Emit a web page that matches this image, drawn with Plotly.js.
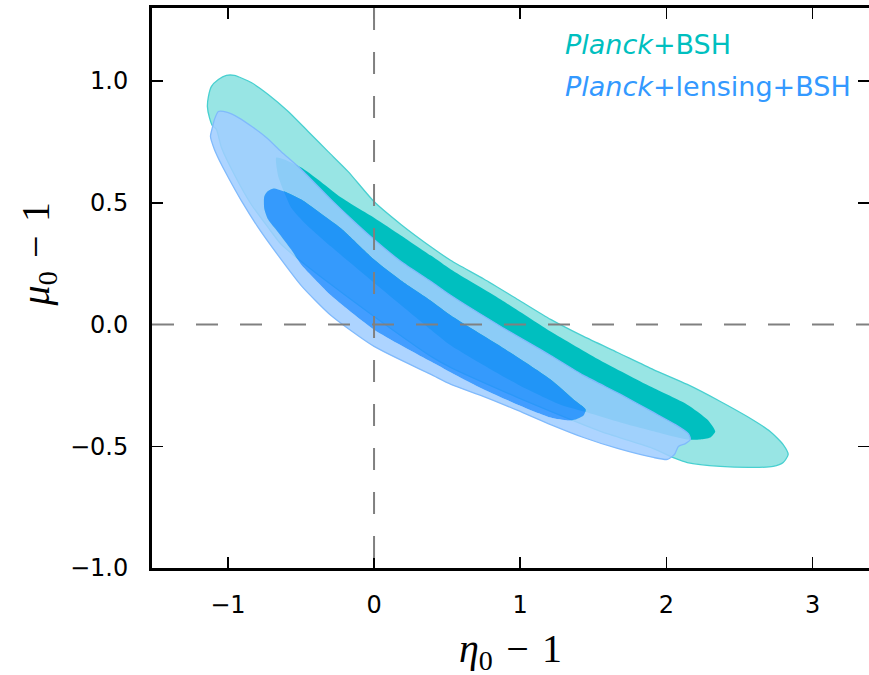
<!DOCTYPE html>
<html>
<head>
<meta charset="utf-8">
<script src="https://cdn.plot.ly/plotly-3.0.1.min.js"></script>
<style>html,body{margin:0;padding:0;background:#fff;}#chart{width:869px;height:675px;}</style>
</head>
<body>
<div id="chart"></div>
<script>
// Contour boundaries (eta0-1, mu0-1)
// Planck+BSH, 95% region outline
var t95x = [-1.133,-1.113,-1.065,-1.010,-0.956,-0.840,-0.724,-0.587,-0.451,-0.314,-0.177,0.000,0.184,0.410,0.526,0.751,0.983,1.208,1.433,1.666,1.911,2.143,2.369,2.553,2.710,2.799,2.833,2.799,2.730,2.594,2.369,2.143,2.061,1.891,1.549,1.208,0.983,0.526,0.389,0.000,-0.294,-0.498,-0.635,-0.724,-0.840,-0.956,-1.044,-1.078,-1.106,-1.126,-1.140,-1.133];
var t95y = [0.936,0.977,1.006,1.023,1.023,0.994,0.945,0.875,0.793,0.710,0.628,0.505,0.411,0.310,0.263,0.187,0.103,0.021,-0.049,-0.115,-0.185,-0.246,-0.316,-0.378,-0.439,-0.493,-0.534,-0.567,-0.583,-0.587,-0.583,-0.567,-0.550,-0.505,-0.439,-0.357,-0.300,-0.177,-0.131,0.033,0.164,0.259,0.329,0.398,0.493,0.616,0.727,0.801,0.817,0.850,0.895,0.936];
// Planck+BSH, 68% region outline
var t68x = [-0.669,-0.614,-0.498,-0.382,-0.225,0.000,0.184,0.389,0.526,0.867,1.208,1.549,1.891,2.143,2.280,2.334,2.300,2.232,2.143,1.891,1.686,1.461,1.276,0.983,0.526,0.389,0.000,-0.294,-0.464,-0.567,-0.614,-0.655,-0.669,-0.669];
var t68y = [0.686,0.678,0.645,0.595,0.522,0.439,0.366,0.283,0.226,0.103,-0.029,-0.148,-0.255,-0.329,-0.390,-0.439,-0.464,-0.472,-0.472,-0.435,-0.402,-0.361,-0.329,-0.246,-0.086,-0.021,0.172,0.320,0.411,0.480,0.542,0.608,0.657,0.686];
// Planck+lensing+BSH, 95% region outline
var b95x = [-1.065,-1.003,-0.928,-0.826,-0.737,-0.635,-0.498,-0.294,-0.137,0.000,0.184,0.389,0.526,0.867,1.208,1.433,1.686,1.911,2.061,2.150,2.164,2.130,2.082,2.055,2.007,1.911,1.666,1.433,1.208,0.983,0.751,0.526,0.389,0.000,-0.294,-0.498,-0.655,-0.792,-0.908,-0.997,-1.044,-1.092,-1.119,-1.106,-1.092,-1.065];
var b95y = [0.875,0.871,0.850,0.809,0.768,0.710,0.637,0.513,0.423,0.349,0.259,0.177,0.119,-0.008,-0.127,-0.209,-0.287,-0.361,-0.411,-0.448,-0.472,-0.489,-0.501,-0.534,-0.554,-0.546,-0.509,-0.464,-0.411,-0.353,-0.296,-0.246,-0.205,-0.090,0.037,0.160,0.283,0.398,0.509,0.604,0.657,0.719,0.772,0.809,0.842,0.875];
// Planck+lensing+BSH, 68% region outline
var b68x = [-0.751,-0.730,-0.689,-0.614,-0.498,-0.382,-0.225,0.000,0.184,0.389,0.526,0.867,1.208,1.365,1.447,1.433,1.379,1.324,1.208,0.983,0.751,0.526,0.389,0.000,-0.294,-0.382,-0.498,-0.567,-0.655,-0.724,-0.751,-0.751];
var b68y = [0.526,0.546,0.559,0.546,0.513,0.464,0.394,0.267,0.181,0.098,0.037,-0.090,-0.226,-0.308,-0.349,-0.374,-0.390,-0.394,-0.382,-0.329,-0.267,-0.197,-0.152,-0.021,0.119,0.172,0.246,0.308,0.378,0.431,0.476,0.526];

var xTicks = [-1, 0, 1, 2, 3];
var yTicks = [-1.0, -0.5, 0.0, 0.5, 1.0];
var legendLabels = ['<i>Planck</i>+BSH', '<i>Planck</i>+lensing+BSH'];

var teal95 = 'rgb(152,229,228)', teal68 = 'rgb(0,191,191)', tealEdge = 'rgb(72,208,208)';
var blue95 = 'rgba(161,206,255,0.87)', blue68 = 'rgba(38,143,255,0.87)', blueEdge = 'rgb(128,186,252)';

// ring for the blue 95% band: outer outline plus reversed inner outline (hole)
var ringX = b95x.concat([null], b68x.slice().reverse());
var ringY = b95y.concat([null], b68y.slice().reverse());

var sp = {shape: 'spline', smoothing: 0.6};
function ln(o){ return Object.assign({}, sp, o); }

var traces = [
  {x: t95x, y: t95y, type: 'scatter', mode: 'lines', fill: 'toself', fillcolor: teal95,
   line: ln({width: 0}), hoverinfo: 'skip', showlegend: false},
  {x: t68x, y: t68y, type: 'scatter', mode: 'lines', fill: 'toself', fillcolor: teal68,
   line: ln({width: 0}), hoverinfo: 'skip', showlegend: false},
  {x: t95x, y: t95y, type: 'scatter', mode: 'lines',
   line: ln({width: 1.3, color: tealEdge}), hoverinfo: 'skip', showlegend: false},
  {x: ringX, y: ringY, type: 'scatter', mode: 'lines', fill: 'toself', fillcolor: blue95,
   line: ln({width: 0}), hoverinfo: 'skip', showlegend: false},
  {x: b68x, y: b68y, type: 'scatter', mode: 'lines', fill: 'toself', fillcolor: blue68,
   line: ln({width: 0}), hoverinfo: 'skip', showlegend: false},
  {x: b95x, y: b95y, type: 'scatter', mode: 'lines',
   line: ln({width: 1.3, color: blueEdge}), hoverinfo: 'skip', showlegend: false}
];

var xr = [-1.519, 3.386], yr = [-1.0, 1.3];
var tickFont = {family: 'DejaVu Sans', size: 24, color: '#000'};
var axisCommon = {
  ticks: 'inside', ticklen: 11, tickwidth: 1.5, tickcolor: '#000',
  showline: true, linewidth: 3, linecolor: '#000', mirror: 'ticks',
  showgrid: false, zeroline: false, tickfont: tickFont, fixedrange: true
};
var sp3 = '\u2004';

var layout = {
  width: 869, height: 675,
  margin: {l: 152, r: 0, t: 8, b: 107},
  paper_bgcolor: '#fff', plot_bgcolor: '#fff',
  showlegend: false,
  xaxis: Object.assign({}, axisCommon, {range: xr, tickvals: xTicks, ticktext: xTicks.map(function(v){return v < 0 ? '\u2212' + Math.abs(v) : String(v);}), ticklabelstandoff: 13}),
  yaxis: Object.assign({}, axisCommon, {range: yr, tickvals: yTicks, ticktext: yTicks.map(function(v){return (v < 0 ? '\u2212' : '') + Math.abs(v).toFixed(1);}), ticklabelstandoff: 16}),
  shapes: [
    {type: 'line', xref: 'x', yref: 'y', x0: 0, x1: 0, y0: yr[1], y1: yr[0], layer: 'above',
     line: {color: 'rgb(128,128,128)', width: 2, dash: '22px,22px'}},
    {type: 'line', xref: 'x', yref: 'y', x0: xr[0], x1: xr[1], y0: 0, y1: 0, layer: 'above',
     line: {color: 'rgb(128,128,128)', width: 2, dash: '22px,22px'}}
  ],
  annotations: [
    {text: legendLabels[0], xref: 'paper', yref: 'paper', x: 0.573, y: 0.934, xanchor: 'left', yanchor: 'middle',
     showarrow: false, font: {family: 'DejaVu Sans', size: 27, color: 'rgb(0,191,191)'}},
    {text: legendLabels[1], xref: 'paper', yref: 'paper', x: 0.573, y: 0.860, xanchor: 'left', yanchor: 'middle',
     showarrow: false, font: {family: 'DejaVu Sans', size: 27, color: 'rgb(51,153,255)'}},
    {text: '<i>\u03b7</i><sub>0</sub>' + sp3 + '\u2212' + sp3 + '1', xref: 'paper', yref: 'paper', x: 0.5, y: -0.148, xanchor: 'center', yanchor: 'middle',
     showarrow: false, font: {family: 'Liberation Serif', size: 40, color: '#000'}},
    {text: '<i>\u03bc</i><sub>0</sub>' + sp3 + '\u2212' + sp3 + '1', xref: 'paper', yref: 'paper', x: -0.159, y: 0.560, xanchor: 'center', yanchor: 'middle',
     textangle: -90, showarrow: false, font: {family: 'Liberation Serif', size: 40, color: '#000'}}
  ]
};

Plotly.newPlot('chart', traces, layout, {staticPlot: true, displayModeBar: false});
</script>
</body>
</html>
